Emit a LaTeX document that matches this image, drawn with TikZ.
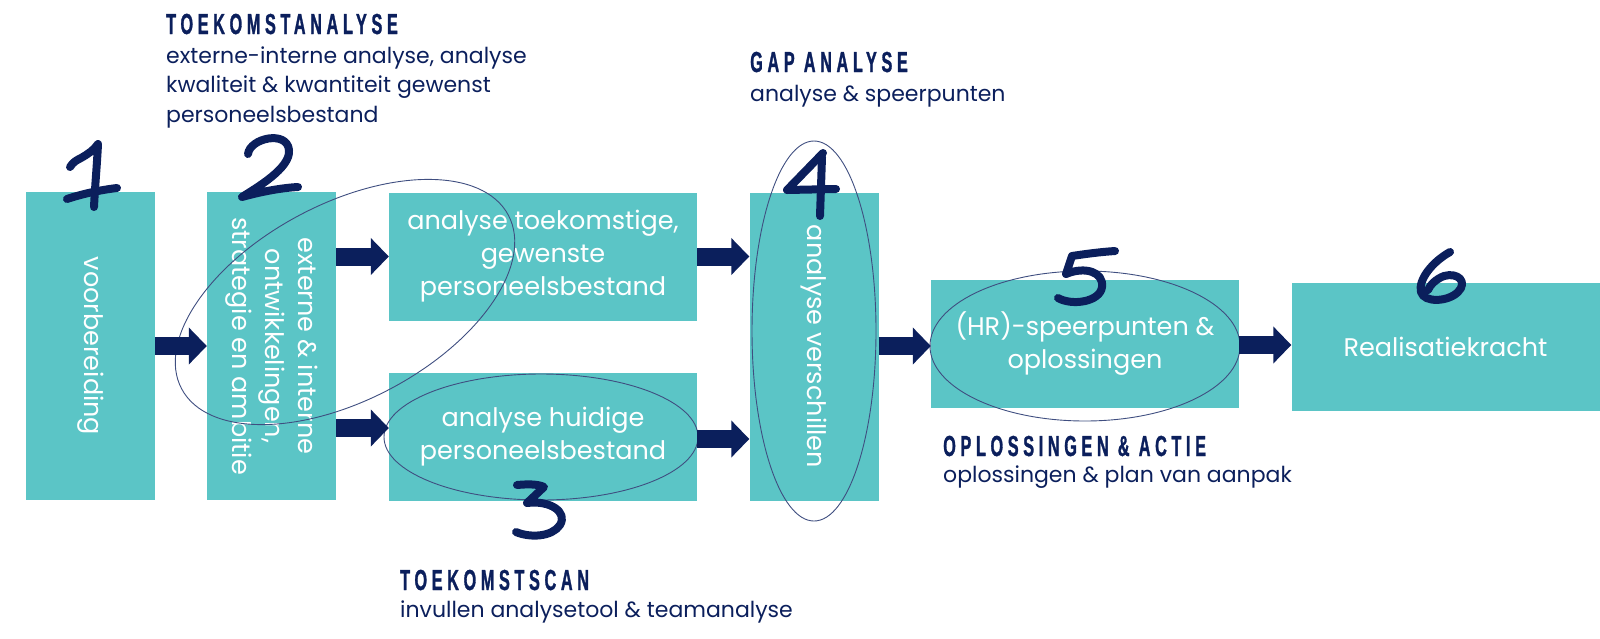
\documentclass[tikz,border=0pt]{standalone}
\usepackage{fontspec}
\setmainfont{Poppins}
\newfontfamily\headfont[FakeStretch=0.56,LetterSpace=16,FakeBold=1]{Liberation Sans}
\usetikzlibrary{arrows.meta}
\definecolor{teal1}{HTML}{5BC5C6}
\definecolor{navy}{HTML}{0B1F5C}
\definecolor{ring}{HTML}{3F4E80}
\begin{document}
\begin{tikzpicture}[x=1pt,y=-1pt,
  vbox/.style={fill=teal1,draw=none,inner sep=0,minimum width=129pt,minimum height=308pt},
  hbox/.style={fill=teal1,draw=none,inner sep=0,minimum width=308pt,minimum height=128pt},
  boxtext/.style={text=white,inner sep=0,align=center,font=\fontsize{25.5}{33}\selectfont},
  head/.style={text=navy,inner sep=0,anchor=base west,font=\headfont\bfseries\fontsize{29}{30}\selectfont},
  desc/.style={text=navy,inner sep=0,anchor=base west,align=left,font=\fontsize{22}{29.5}\selectfont},
  ringline/.style={draw=ring,line width=0.9pt},
  arr/.style={draw=navy,line width=18pt,-{Triangle[length=18pt,width=36pt]}},
  digit/.style={draw=navy,line width=8pt,line cap=round,line join=round}]
\useasboundingbox (0,0) rectangle (1600,638);
% boxes
\node[vbox] (b1) at (90.5,346) {};
\node[vbox] (b2) at (271.5,346) {};
\node[hbox] (b3a) at (543,256.5) {};
\node[hbox] (b3b) at (543,437) {};
\node[vbox] (b4) at (814,346.5) {};
\node[hbox] (b5) at (1085,344) {};
\node[hbox] (b6) at (1445.5,347) {};
% box texts
\node[boxtext,rotate=-90] (t1) at (b1) {voorbereiding};
\node[boxtext,rotate=-90] (t2) at (b2) {externe \& interne\\ontwikkelingen,\\strategie en ambitie};
\node[boxtext] (t3a) at (b3a) {analyse toekomstige,\\gewenste\\personeelsbestand};
\node[boxtext] (t3b) at (b3b) {analyse huidige\\personeelsbestand};
\node[boxtext,rotate=-90] (t4) at (b4) {analyse verschillen};
\node[boxtext] (t5) at (b5) {(HR)-speerpunten \&\\oplossingen};
\node[boxtext] (t6) at (b6) {Realisatiekracht};
% rings
\draw[ringline] (345,302) ellipse [x radius=185, y radius=98, rotate=28];
\draw[ringline] (541,437) ellipse [x radius=157, y radius=63];
\draw[ringline] (814,331) ellipse [x radius=62, y radius=190];
\draw[ringline] (1085,346) ellipse [x radius=155, y radius=75];
% arrows
\draw[arr] (b1.east) -- (b2.west);
\draw[arr] (b2.east |- b3a.west) -- (b3a.west);
\draw[arr] (b2.east |- 0,428) -- (b3b.west |- 0,428);
\draw[arr] (b3a.east) -- (b4.west |- b3a.east);
\draw[arr] (b3b.east |- 0,439) -- (b4.west |- 0,439);
\draw[arr] (b4.east |- 0,346) -- (b5.west |- 0,346);
\draw[arr] (b5.east |- 0,345) -- (b6.west |- 0,345);
% digits
\draw[digit] (70,167) .. controls (73,162) and (77,160) .. (81,158) .. controls (88,154) and (94,150) .. (98,144) .. controls (97,165) and (95,186) .. (94,207);
\draw[digit] (67,199) .. controls (82,194) and (100,190) .. (117,188);
\draw[digit] (248,154) .. controls (250,138) and (287,130) .. (289,150) .. controls (291,168) and (256,188) .. (242,197) .. controls (260,192) and (280,188) .. (298,187);
\draw[digit] (517,485) .. controls (528,484) and (538,484) .. (544,487) -- (527,503) .. controls (550,500) and (568,512) .. (560,525) .. controls (552,537) and (530,538) .. (516,532);
\draw[digit] (823,153) -- (787,190) -- (836,189);
\draw[digit] (822,157) -- (820,216);
\draw[digit] (1115,251) .. controls (1100,252) and (1085,254) .. (1072,256) -- (1066,274) .. controls (1085,266) and (1104,272) .. (1102,287) .. controls (1100,302) and (1072,306) .. (1058,298);
\draw[digit] (1450,252) .. controls (1432,262) and (1418,280) .. (1421,292) .. controls (1424,303) and (1448,302) .. (1458,292) .. controls (1468,282) and (1458,272) .. (1444,276) .. controls (1436,279) and (1430,285) .. (1428,290);
% headings and descriptions
\node[head] (h2) at (166,34) {TOEKOMSTANALYSE};
\node[desc] (d2) at (166,122) {externe-interne analyse, analyse\\kwaliteit \& kwantiteit gewenst\\personeelsbestand};
\node[head] (h4) at (750,72) {GAP ANALYSE};
\node[desc] (d4) at (750,101) {analyse \& speerpunten};
\node[head] (h3) at (400,590) {TOEKOMSTSCAN};
\node[desc] (d3) at (400,617) {invullen analysetool \& teamanalyse};
\node[head] (h5) at (943,456) {OPLOSSINGEN \& ACTIE};
\node[desc] (d5) at (943,482) {oplossingen \& plan van aanpak};
\end{tikzpicture}
\end{document}
